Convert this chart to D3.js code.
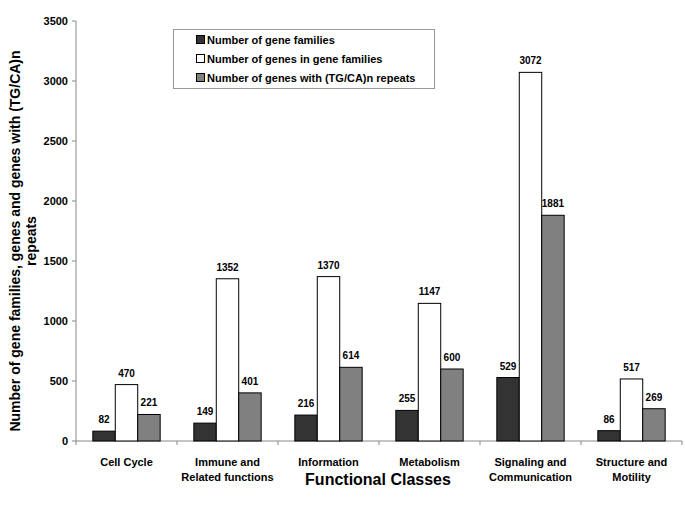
<!DOCTYPE html>
<html><head><meta charset="utf-8">
<script src="https://cdn.jsdelivr.net/npm/d3@7"></script>
<style>body{margin:0;background:#fff;font-family:"Liberation Sans",Arial,sans-serif;font-weight:bold}</style>
</head><body><svg id="c" width="685" height="511"></svg>
<script>
const categories = [["Cell Cycle"],["Immune and","Related functions"],["Information"],["Metabolism"],["Signaling and","Communication"],["Structure and","Motility"]];
const seriesNames = ["Number of gene families","Number of genes in gene families","Number of genes with (TG/CA)n repeats"];
const geneFamilies = [82,149,216,255,529,86];
const genesInFamilies = [470,1352,1370,1147,3072,517];
const genesWithRepeats = [221,401,614,600,1881,269];
const yTicks = [0,500,1000,1500,2000,2500,3000,3500];
const colors = ["#333333","#ffffff","#808080"];
const series = [geneFamilies, genesInFamilies, genesWithRepeats];

const svg = d3.select("#c");
const m = {l:76, r:3, t:21, b:70};
const W = 685, H = 511;
const x = d3.scaleBand().domain(d3.range(categories.length)).range([m.l, W-m.r]);
const y = d3.scaleLinear().domain([0,3500]).range([H-m.b, m.t]);
const bw = x.bandwidth()/(3+1.5);
const x1 = d3.scaleBand().domain([0,1,2]).range([0, bw*3]);

// axes
svg.append("line").attr("x1",m.l).attr("x2",m.l).attr("y1",y(3500)).attr("y2",y(0)).attr("stroke","#888");
svg.append("line").attr("x1",m.l).attr("x2",W-m.r).attr("y1",y(0)).attr("y2",y(0)).attr("stroke","#888");
yTicks.forEach(t=>{
  svg.append("line").attr("x1",m.l-4).attr("x2",m.l).attr("y1",y(t)).attr("y2",y(t)).attr("stroke","#888");
  svg.append("text").attr("x",m.l-8).attr("y",y(t)+4).attr("text-anchor","end").attr("font-size",11).text(t);
});
d3.range(categories.length+1).forEach(i=>{
  const xx = i<categories.length ? x(i) : W-m.r;
  svg.append("line").attr("x1",xx).attr("x2",xx).attr("y1",y(0)).attr("y2",y(0)+4).attr("stroke","#888");
});

// bars
categories.forEach((c,i)=>{
  const x0 = x(i) + (x.bandwidth()-bw*3)/2;
  series.forEach((s,j)=>{
    svg.append("rect").attr("x",x0+x1(j)).attr("y",y(s[i])).attr("width",x1.bandwidth()).attr("height",y(0)-y(s[i]))
      .attr("fill",colors[j]).attr("stroke","#000").attr("stroke-width",1);
    svg.append("text").attr("x",x0+x1(j)+x1.bandwidth()/2).attr("y",y(s[i])-8).attr("text-anchor","middle").attr("font-size",10).text(s[i]);
  });
  c.forEach((line,k)=>{
    svg.append("text").attr("x",x(i)+x.bandwidth()/2).attr("y",y(0)+25+k*15).attr("text-anchor","middle").attr("font-size",11).text(line);
  });
});

// titles
svg.append("text").attr("x",378).attr("y",485).attr("text-anchor","middle").attr("font-size",16).text("Functional Classes");
const yt = svg.append("text").attr("transform","translate(20,241) rotate(-90)").attr("text-anchor","middle").attr("font-size",14);
yt.append("tspan").attr("x",0).attr("y",0).text("Number of gene families, genes and genes with (TG/CA)n");
yt.append("tspan").attr("x",0).attr("y",16).text("repeats");

// legend
svg.append("rect").attr("x",173.5).attr("y",29.5).attr("width",261).attr("height",59).attr("fill","#fff").attr("stroke","#999");
seriesNames.forEach((n,i)=>{
  const yy = 40 + i*19;
  svg.append("rect").attr("x",196.5).attr("y",yy-4.5).attr("width",8).attr("height",8).attr("fill",colors[i]).attr("stroke","#000");
  svg.append("text").attr("x",207).attr("y",yy+4).attr("font-size",11).text(n);
});
</script></body></html>
